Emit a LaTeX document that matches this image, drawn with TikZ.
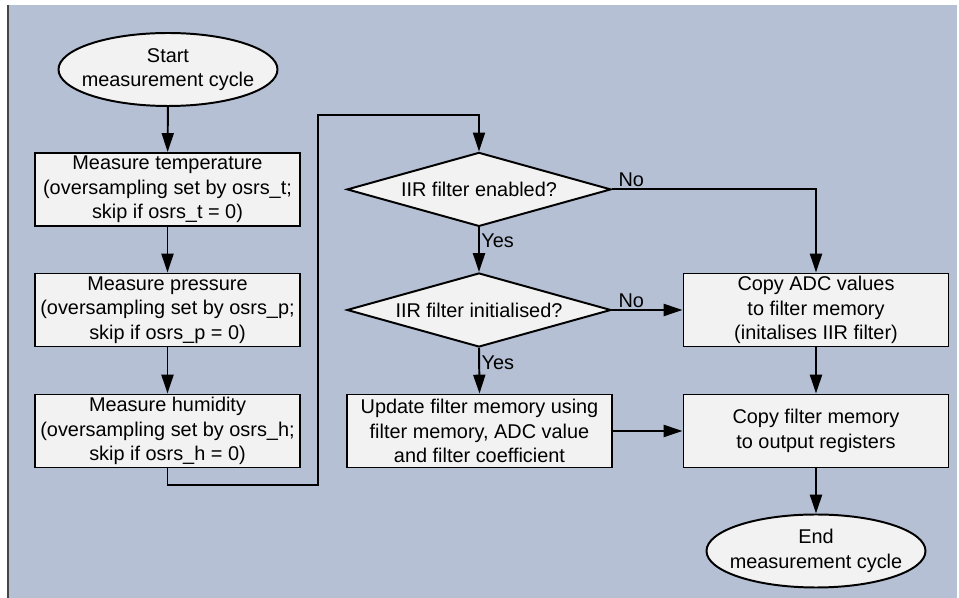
\documentclass[tikz,border=0pt]{standalone}
\usepackage{fontspec}
\setmainfont{Liberation Sans}
\usetikzlibrary{shapes.geometric,arrows.meta}
\definecolor{bgblue}{RGB}{181,192,212}
\definecolor{boxgray}{RGB}{242,242,242}
\definecolor{edgegray}{RGB}{70,70,70}

\begin{document}
\begin{tikzpicture}[
		every node/.style={font=\fontsize{14.15pt}{17.4pt}\selectfont},
		proc/.style={draw, line width=1.4pt, fill=boxgray, align=center, inner sep=0pt, minimum width=6.625cm, minimum height=1.825cm},
		term/.style={draw, line width=1.4pt, fill=boxgray, ellipse, inner sep=0pt, minimum width=5.475cm, minimum height=1.825cm},
		decide/.style={draw, line width=1.4pt, fill=boxgray, diamond, aspect=3.57, inner sep=0pt, minimum width=6.6cm, minimum height=1.85cm},
		flow/.style={line width=1.4pt, -{Triangle[length=0.47cm,width=0.3cm]}},
		lbl/.style={inner sep=1pt}
	]
		\useasboundingbox (0,0) rectangle (23.975,14.95);
		\fill[bgblue] (0.225,0) rectangle (23.925,14.825);
		\draw[edgegray, line width=0.05cm] (0.2125,0) -- (0.2125,14.825);

		% left column
		\node[term, label={[align=center]center:Start\\measurement cycle}] (S) at (4.2,13.2125) {};
		\node[proc] (T) at (4.1875,10.215) {Measure temperature\\(oversampling set by osrs\_t;\\skip if osrs\_t = 0)};
		\node[proc] (P) at (4.1875,7.2) {Measure pressure\\(oversampling set by osrs\_p;\\skip if osrs\_p = 0)};
		\node[proc] (H) at (4.1875,4.175) {Measure humidity\\(oversampling set by osrs\_h;\\skip if osrs\_h = 0)};

		% middle column
		\node[decide] (E) at (11.975,10.215) {IIR filter enabled?};
		\node[decide] (I) at (11.975,7.2) {IIR filter initialised?};
		\node[proc] (U) at (11.9875,4.175) {Update filter memory using\\filter memory, ADC value\\and filter coefficient};

		% right column
		\node[proc] (A) at (20.4,7.2) {Copy ADC values\\to filter memory\\(initalises IIR filter)};
		\node[proc] (O) at (20.4,4.175) {Copy filter memory\\to output registers};
		\node[term, label={[align=center]center:End\\measurement cycle}] (N) at (20.4,1.175) {};

		\coordinate (c1) at (7.95,2.825);
		\coordinate (c2) at (7.95,12.075);

		\draw[flow] (S) -- (T);
		\draw[flow] (T) -- (P);
		\draw[flow] (P) -- (H);
		\draw[flow] (H.south) |- (c1) -- (c2) -| (E.north);
		\draw[flow] (E.south) -- node[lbl, pos=0.3, right] {Yes} (I.north);
		\draw[flow] (I.south) -- node[lbl, pos=0.33, right] {Yes} (U.north);
		\draw[flow] (E.east) -| node[lbl, pos=0, anchor=south west, xshift=3pt] {No} (A.north);
		\draw[flow] (I.east) -- node[lbl, pos=0, anchor=south west, xshift=3pt] {No} (A.west);
		\draw[flow] (U.east) -- (O.west);
		\draw[flow] (A.south) -- (O.north);
		\draw[flow] (O.south) -- (N.north);
		\end{tikzpicture}
\end{document}
